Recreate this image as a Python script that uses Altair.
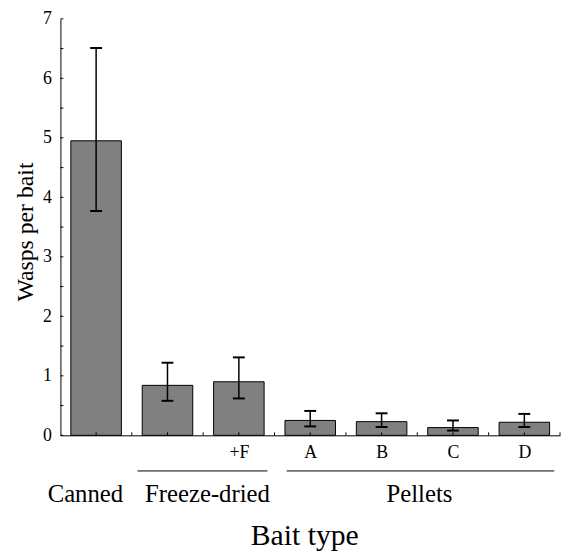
import altair as alt
import pandas as pd

# ---- data ----
categories = ["Canned", "Freeze-dried", "Freeze-dried +F", "Pellet A", "Pellet B", "Pellet C", "Pellet D"]
tick_labels = ["", "", "+F", "A", "B", "C", "D"]
positions = [0, 1, 2, 3, 4, 5, 6]
means = [4.95, 0.84, 0.90, 0.25, 0.23, 0.13, 0.22]
err_low = [3.77, 0.58, 0.62, 0.15, 0.14, 0.08, 0.14]
err_high = [6.51, 1.22, 1.31, 0.41, 0.37, 0.25, 0.36]

group_names = ["Canned", "Freeze-dried", "Pellets"]
group_centers = [-0.15, 1.56, 4.53]
line_names = ["Freeze-dried", "Pellets"]
line_starts = [0.58, 2.67]
line_ends = [2.40, 6.42]

y_tick_values = [0, 0.5, 1, 1.5, 2, 2.5, 3, 3.5, 4, 4.5, 5, 5.5, 6, 6.5, 7]
y_label_values = [0, 1, 2, 3, 4, 5, 6, 7]
x_tick_values = [0, 0.5, 1, 1.5, 2, 2.5, 3, 3.5, 4, 4.5, 5, 5.5, 6, 6.5]

FONT = "'Liberation Serif', 'Times New Roman', Times, serif"
HALF = 0.354
H = 421

df = pd.DataFrame({
    "category": categories,
    "pos": positions,
    "mean": means,
    "lo": err_low,
    "hi": err_high,
})
groups_df = pd.DataFrame({"name": group_names, "c": group_centers})
lines_df = pd.DataFrame({"name": line_names, "s": line_starts, "e": line_ends})
yt_df = pd.DataFrame({"v": y_tick_values})
xt_df = pd.DataFrame({"v": x_tick_values})

x_scale = alt.Scale(domain=[-0.5, 6.5], nice=False, zero=False)
y_scale = alt.Scale(domain=[0, 7], nice=False, zero=True)

labels_js = "[" + ",".join("'" + t + "'" for t in tick_labels) + "]"

x_axis = alt.Axis(
    values=positions, labelExpr=labels_js + "[datum.value]",
    ticks=False, tickSize=0, grid=False, domainColor="black", domainWidth=1,
    labelFont=FONT, labelFontSize=18, labelColor="black", labelPadding=22,
    labelBaseline="alphabetic", labelOverlap=False, labelFlush=False, labelBound=False,
    title="Bait type", titleFont=FONT, titleFontSize=30, titleFontWeight="normal",
    titleColor="black", titleX=246.5, titleY=110, titleBaseline="alphabetic",
)
y_axis = alt.Axis(
    values=y_label_values, format="d",
    ticks=False, tickSize=0, grid=False, domainColor="black", domainWidth=1,
    labelFont=FONT, labelFontSize=18, labelColor="black", labelPadding=9,
    labelOverlap=False, labelFlush=False, labelBound=False,
    title="Wasps per bait", titleFont=FONT, titleFontSize=24, titleFontWeight="normal",
    titleColor="black", titleX=-28, titleY=215, titleBaseline="alphabetic", titleAngle=270,
)

base = alt.Chart(df).transform_calculate(
    x0="datum.pos - " + str(HALF), x1="datum.pos + " + str(HALF)
)

bars = base.mark_bar(color="#808080", stroke="black", strokeWidth=1).encode(
    x=alt.X("x0:Q", scale=x_scale, axis=x_axis),
    x2="x1:Q",
    y=alt.Y("mean:Q", scale=y_scale, axis=y_axis),
    y2=alt.datum(0),
)

err = alt.Chart(df).mark_rule(color="black", strokeWidth=1.5).encode(
    x="pos:Q", y="lo:Q", y2="hi:Q"
)
cap_hi = alt.Chart(df).mark_tick(orient="horizontal", size=12, thickness=2, color="black", opacity=1).encode(
    x="pos:Q", y="hi:Q"
)
cap_lo = alt.Chart(df).mark_tick(orient="horizontal", size=12, thickness=2, color="black", opacity=1).encode(
    x="pos:Q", y="lo:Q"
)

y_ticks = alt.Chart(yt_df).mark_rule(color="black", strokeWidth=1).encode(
    y="v:Q", x=alt.value(0), x2=alt.value(3)
)
x_ticks = alt.Chart(xt_df).mark_rule(color="black", strokeWidth=1).encode(
    x="v:Q", y=alt.value(H), y2=alt.value(H - 3)
)

group_lines = alt.Chart(lines_df).mark_rule(color="black", strokeWidth=1).encode(
    x="s:Q", x2="e:Q", y=alt.value(H + 36)
)
group_text = alt.Chart(groups_df).mark_text(
    font=FONT, fontSize=25, baseline="alphabetic", align="center", color="black"
).encode(x="c:Q", y=alt.value(H + 67), text="name:N")

chart = alt.layer(
    bars, err, cap_hi, cap_lo, y_ticks, x_ticks, group_lines, group_text
).properties(
    width=505, height=H,
    autosize=alt.AutoSizeParams(type="none"),
    padding={"left": 53, "top": 8, "right": 2, "bottom": 116},
    background="white",
).configure_view(stroke=None)

chart.save("out.html", embed_options={"renderer": "svg", "actions": False})
